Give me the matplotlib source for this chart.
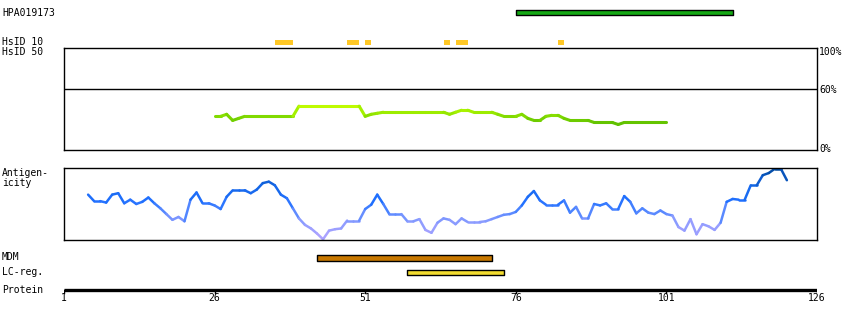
import numpy as np
import matplotlib
matplotlib.use("Agg")
import matplotlib.pyplot as plt
from matplotlib.collections import LineCollection
from matplotlib.colors import LinearSegmentedColormap

# === DATA ===
seq_len = 126
tick_pos = [1, 26, 51, 76, 101, 126]

hpa_span = (76, 112)
hsid10_blocks = [(36, 3), (48, 2), (51, 1), (64, 1), (66, 2), (83, 1)]
mdm_span = (43, 72)
lcreg_span = (58, 74)

# % identity (HsID 50 region), residues 26..101
ident_res = list(range(26, 102))
ident_pct = [33, 33, 35, 29, 31, 33, 33, 33, 33, 33, 33, 33, 33, 33,   # 26-39
             43, 43, 43, 43, 43, 43, 43, 43, 43, 43, 43,              # 40-50
             33, 35, 36, 37, 37, 37, 37, 37, 37, 37, 37, 37, 37,      # 51-63
             37, 35, 37, 39, 39, 37, 37, 37, 37, 35, 33, 33, 33,      # 64-76
             35, 31, 29, 29, 33, 34, 34, 31, 29, 29, 29, 29,          # 77-88
             27, 27, 27, 27, 25, 27, 27, 27, 27, 27, 27, 27, 27]      # 89-101

# antigenicity score, residues 5..121
anti_res = list(range(5, 122))
anti_val = [0.63, 0.54, 0.54, 0.52, 0.63, 0.65, 0.51, 0.56, 0.50, 0.53,   # 5-14
            0.59, 0.51, 0.44, 0.36, 0.28, 0.32, 0.26, 0.56, 0.66, 0.51,   # 15-24
            0.51, 0.48, 0.43, 0.60, 0.69, 0.69, 0.69, 0.65, 0.70, 0.79,   # 25-34
            0.81, 0.76, 0.63, 0.58, 0.44, 0.30, 0.21, 0.16, 0.09, 0.01,   # 35-44
            0.13, 0.15, 0.16, 0.27, 0.27, 0.27, 0.43, 0.49, 0.63, 0.50,   # 45-54
            0.36, 0.36, 0.36, 0.26, 0.26, 0.29, 0.14, 0.10, 0.24, 0.30,   # 55-64
            0.28, 0.22, 0.30, 0.25, 0.25, 0.25, 0.26, 0.29, 0.32, 0.35,   # 65-74
            0.36, 0.39, 0.48, 0.60, 0.68, 0.55, 0.49, 0.49, 0.49, 0.55,   # 75-84
            0.38, 0.46, 0.30, 0.30, 0.50, 0.48, 0.51, 0.43, 0.43, 0.61,   # 85-94
            0.53, 0.37, 0.44, 0.38, 0.36, 0.41, 0.36, 0.34, 0.18, 0.13,   # 95-104
            0.29, 0.08, 0.22, 0.19, 0.14, 0.24, 0.53, 0.57, 0.56, 0.56,   # 105-114
            0.76, 0.76, 0.90, 0.93, 0.99, 0.99, 0.83]                     # 115-121

# === FIGURE ===
W, H = 850, 330
fig = plt.figure(figsize=(W / 100, H / 100), dpi=100)
FONT = dict(family="DejaVu Sans Mono", fontsize=7, color="black")
X0, X1 = 64, 817


def box(top, bottom):
    return [X0 / W, 1 - bottom / H, (X1 - X0) / W, (bottom - top) / H]


def seg_colors(x, y, cmap, vmin, vmax):
    pts = np.column_stack([x, y]).reshape(-1, 1, 2)
    segs = np.concatenate([pts[:-1], pts[1:]], axis=1)
    mid = (np.array(y[:-1]) + np.array(y[1:])) / 2
    return segs, cmap((mid - vmin) / (vmax - vmin))


# --- track axes (pixel rows in y, residues in x) ---
ax = fig.add_axes([X0 / W, 0, (X1 - X0) / W, 1])
ax.set_xlim(1, seq_len)
ax.set_ylim(H, 0)
ax.axis("off")

ax.broken_barh([(hpa_span[0], hpa_span[1] - hpa_span[0])], (10, 5),
               facecolors="#14a814", edgecolors="black", linewidth=1)
ax.broken_barh([(s, n) for s, n in hsid10_blocks], (40, 5),
               facecolors="#ffc826", edgecolors="none")
ax.broken_barh([(mdm_span[0], mdm_span[1] - mdm_span[0])], (255, 6),
               facecolors="#c87800", edgecolors="black", linewidth=1)
ax.broken_barh([(lcreg_span[0], lcreg_span[1] - lcreg_span[0])], (270, 5),
               facecolors="#f2dc30", edgecolors="black", linewidth=1)

# protein ruler
ax.plot([1, seq_len], [290, 290], color="black", lw=2.4, solid_capstyle="butt")
for t in tick_pos:
    ax.plot([t, t], [290, 293], color="black", lw=1)
    ax.text(t, 298, str(t), ha="center", va="center", **FONT)

# --- identity panel ---
ax1 = fig.add_axes(box(48, 150))
ax1.set_xlim(1, seq_len)
ax1.set_ylim(0, 100)
ax1.set_xticks([])
ax1.set_yticks([])
for s in ax1.spines.values():
    s.set_linewidth(1)
ax1.axhline(60, color="black", lw=1)
gcmap = LinearSegmentedColormap.from_list(
    "ident", ["#5cbe00", "#78d400", "#a6f200", "#c8ff00"])
segs, cols = seg_colors(ident_res, ident_pct, gcmap, 25, 45)
ax1.add_collection(LineCollection(segs, colors=cols, linewidths=2.2,
                                  capstyle="round"))

# --- antigenicity panel ---
ax2 = fig.add_axes(box(168, 240))
ax2.set_xlim(1, seq_len)
ax2.set_ylim(0, 1)
ax2.set_xticks([])
ax2.set_yticks([])
for s in ax2.spines.values():
    s.set_linewidth(1)
bcmap = LinearSegmentedColormap.from_list(
    "anti", [(0, "#b4a4ff"), (0.25, "#8c9cff"), (0.42, "#4c84ff"),
             (0.55, "#2070ff"), (0.75, "#1466e6"), (0.9, "#0a56c0"),
             (1.0, "#00489a")])
segs, cols = seg_colors(anti_res, anti_val, bcmap, 0, 1)
ax2.add_collection(LineCollection(segs, colors=cols, linewidths=1.8,
                                  capstyle="round"))

# --- labels ---
def label(x, y, s, **kw):
    fig.text(x / W, 1 - y / H, s, va="center", **FONT, **kw)


label(2, 13, "HPA019173")
label(2, 42, "HsID 10")
label(2, 52, "HsID 50")
label(2, 173, "Antigen-")
label(2, 183, "icity")
label(2, 257, "MDM")
label(2, 272, "LC-reg.")
label(2, 290, "Protein")
label(819, 52, "100%")
label(819, 90, "60%")
label(819, 149, "0%")

fig.savefig("out.png", dpi=100)
